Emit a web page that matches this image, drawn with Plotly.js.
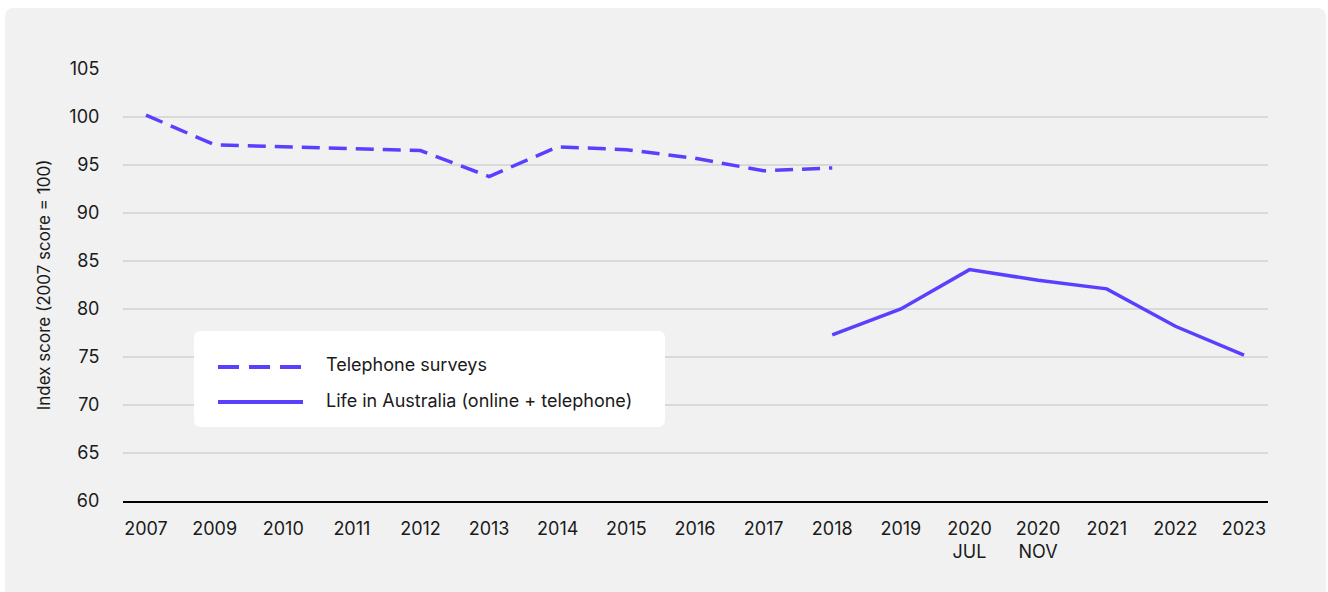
<!DOCTYPE html>
<html>
<head>
<meta charset="utf-8">
<script src="https://cdn.plot.ly/plotly-3.0.1.min.js"></script>
<style>
html,body{margin:0;padding:0;background:#fff;}
#chart{width:1328px;height:592px;}
</style>
</head>
<body>
<div id="chart"></div>
<script>
// ---- data ----
const categories = ["2007","2009","2010","2011","2012","2013","2014","2015","2016","2017","2018","2019","2020<br>JUL","2020<br>NOV","2021","2022","2023"];
const telephoneName = "Telephone surveys";
const telephoneValues = [100.2, 97.1, 96.9, 96.7, 96.5, 93.8, 96.9, 96.6, 95.7, 94.4, 94.7, null, null, null, null, null, null];
const liaName = "Life in Australia (online + telephone)";
const liaValues = [null, null, null, null, null, null, null, null, null, null, 77.3, 80.0, 84.1, 83.0, 82.1, 78.2, 75.2];
const yTicks = [60, 65, 70, 75, 80, 85, 90, 95, 100, 105];
const yTitle = "Index score (2007 score = 100)";

// ---- styling ----
const purple = "#5940ff";
const fontFam = "Inter, 'Noto Sans', sans-serif";
const txt = "#1a1a1a";
const W = 1328, H = 592;
const mL = 123, mR = 60, mT = 69, mB = 91;
const pw = W - mL - mR, ph = H - mT - mB;
const px = v => (v - mL) / pw;         // pixel x -> paper
const py = v => (H - mB - v) / ph;     // pixel y -> paper

function roundRect(w, h, r) {
  const x0 = -w / 2, x1 = w / 2, y0 = -h / 2, y1 = h / 2;
  return `M${x0 + r},${y0} L${x1 - r},${y0} Q${x1},${y0} ${x1},${y0 + r} L${x1},${y1 - r} Q${x1},${y1} ${x1 - r},${y1} L${x0 + r},${y1} Q${x0},${y1} ${x0},${y1 - r} L${x0},${y0 + r} Q${x0},${y0} ${x0 + r},${y0} Z`;
}

const traces = [
  { x: categories, y: telephoneValues, name: telephoneName, type: "scatter", mode: "lines",
    line: { color: purple, width: 3.5, dash: "18px,9px" }, connectgaps: false, hoverinfo: "x+y" },
  { x: categories, y: liaValues, name: liaName, type: "scatter", mode: "lines",
    line: { color: purple, width: 3.5 }, connectgaps: false, hoverinfo: "x+y" }
];

const shapes = [
  // grey panel with rounded corners
  { type: "path", layer: "below", xref: "paper", yref: "paper",
    xsizemode: "pixel", ysizemode: "pixel",
    xanchor: px((5 + 1326) / 2), yanchor: py((8 + 600) / 2),
    path: roundRect(1321, 592, 9), fillcolor: "#f1f1f1", line: { width: 0 } },
  // legend box
  { type: "path", layer: "above", xref: "paper", yref: "paper",
    xsizemode: "pixel", ysizemode: "pixel",
    xanchor: px((194 + 665) / 2), yanchor: py((331 + 427) / 2),
    path: roundRect(471, 96, 7), fillcolor: "#ffffff", line: { width: 0 } },
  // legend samples
  { type: "line", layer: "above", xref: "paper", yref: "paper",
    x0: px(218), x1: px(303), y0: py(367), y1: py(367),
    line: { color: purple, width: 4, dash: "21px,10px" } },
  { type: "line", layer: "above", xref: "paper", yref: "paper",
    x0: px(218), x1: px(303), y0: py(402), y1: py(402),
    line: { color: purple, width: 4 } }
];

const annotations = [
  { text: telephoneName, xref: "paper", yref: "paper", x: px(324), y: py(364),
    xanchor: "left", yanchor: "middle", showarrow: false,
    font: { family: fontFam, size: 18, color: txt } },
  { text: liaName, xref: "paper", yref: "paper", x: px(324), y: py(400),
    xanchor: "left", yanchor: "middle", showarrow: false,
    font: { family: fontFam, size: 18, color: txt } }
];

const layout = {
  width: W, height: H,
  margin: { l: mL, r: mR, t: mT, b: mB, pad: 0 },
  paper_bgcolor: "#ffffff",
  plot_bgcolor: "rgba(0,0,0,0)",
  showlegend: false,
  font: { family: fontFam, size: 18, color: txt },
  xaxis: {
    type: "category",
    range: [-0.335, 16.35],
    showgrid: false,
    showline: true, linecolor: "#000000", linewidth: 2,
    ticks: "outside", ticklen: 10, tickcolor: "rgba(0,0,0,0)",
    tickfont: { family: fontFam, size: 18, color: txt },
    zeroline: false, fixedrange: true
  },
  yaxis: {
    range: [60, 105],
    tickvals: yTicks,
    ticktext: yTicks.map(String),
    showgrid: true, gridcolor: "#d9d9d9", gridwidth: 1.5,
    zeroline: false, showline: false,
    ticks: "outside", ticklen: 19, tickcolor: "rgba(0,0,0,0)",
    tickfont: { family: fontFam, size: 18, color: txt },
    title: { text: yTitle, standoff: 14, font: { family: fontFam, size: 17, color: txt } },
    fixedrange: true
  },
  shapes: shapes,
  annotations: annotations
};

Plotly.newPlot("chart", traces, layout, { displayModeBar: false, staticPlot: true });
</script>
</body>
</html>
